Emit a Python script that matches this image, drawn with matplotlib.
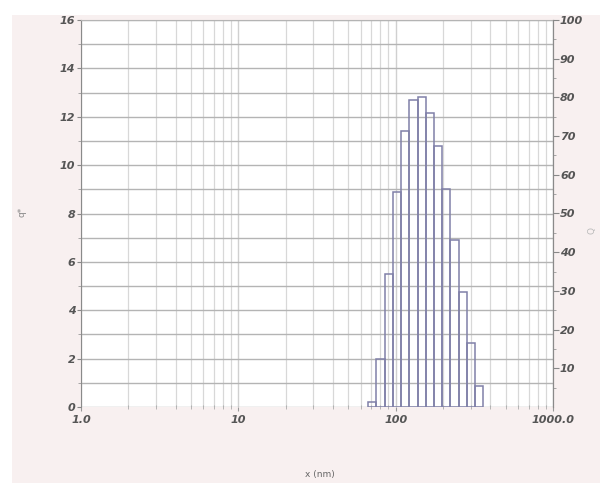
import matplotlib
matplotlib.use("Agg")
import matplotlib.pyplot as plt
from matplotlib.patches import Rectangle
from matplotlib.ticker import NullFormatter

# Data
bin_edges_nm = [67, 75, 85, 96, 108, 122, 138, 156, 175, 198, 223, 252, 284, 320, 361]
q_values = [0.2, 2.0, 5.5, 8.9, 11.4, 12.7, 12.8, 12.15, 10.8, 9.0, 6.9, 4.75, 2.65, 0.85]
x_tick_values = [1, 10, 100, 1000]
x_tick_labels = ["1.0", "10", "100", "1000.0"]
left_ticks = [0, 2, 4, 6, 8, 10, 12, 14, 16]
right_ticks = [10, 20, 30, 40, 50, 60, 70, 80, 90, 100]

W, H = 600, 483
fig = plt.figure(figsize=(6.0, 4.83), dpi=100, facecolor="white")
fig.patches.append(Rectangle((12 / W, 0), 1, (H - 15) / H, transform=fig.transFigure,
                             facecolor="#f8f0f0", edgecolor="none", zorder=-10))

ax = fig.add_axes([81 / W, (H - 407) / H, (553 - 81) / W, (407 - 20) / H])
ax.set_facecolor("white")
ax.set_xscale("log")
ax.set_xlim(1, 1000)
ax.set_ylim(0, 16)

# grid
ax.set_yticks(left_ticks)
ax.set_yticks(range(0, 17), minor=True)
ax.yaxis.grid(True, which="both", color="#b4b4b4", linewidth=1.0)
ax.xaxis.grid(True, which="minor", color="#d8d8d8", linewidth=0.9)
ax.xaxis.grid(True, which="major", color="#d0d0d0", linewidth=1.0)
ax.set_axisbelow(True)

# bars
widths = [bin_edges_nm[i + 1] - bin_edges_nm[i] for i in range(len(q_values))]
ax.bar(bin_edges_nm[:-1], q_values, width=widths, align="edge", fill=False,
       edgecolor="#8080a8", linewidth=1.1, zorder=3)

# axes styling
ax.spines["bottom"].set_visible(False)
ax.spines["top"].set_color("#b4b4b4")
ax.spines["left"].set_color("#8a8a8a")
ax.spines["right"].set_color("#8a8a8a")

tick_font = dict(fontsize=8, fontstyle="italic", fontweight="bold", color="#555555")
ax.set_xticks(x_tick_values)
ax.set_xticklabels(x_tick_labels, **tick_font)
ax.xaxis.set_minor_formatter(NullFormatter())
ax.tick_params(axis="x", which="major", length=3, color="#999999", pad=3)
ax.tick_params(axis="x", which="minor", length=3, color="#aaaaaa", direction="inout")
ax.set_yticklabels([str(v) for v in left_ticks], **tick_font)
ax.tick_params(axis="y", which="major", length=3, color="#888888", pad=1)
ax.tick_params(axis="y", which="minor", length=2, color="#999999")

ax2 = ax.twinx()
ax2.set_ylim(0, 100)
ax2.set_yticks(right_ticks)
ax2.set_yticks(range(5, 100, 10), minor=True)
ax2.set_yticklabels([str(v) for v in right_ticks], **tick_font)
ax2.tick_params(axis="y", which="major", length=4, color="#888888", pad=1)
ax2.tick_params(axis="y", which="minor", length=2, color="#999999")
for s in ["top", "bottom", "left"]:
    ax2.spines[s].set_visible(False)
ax2.spines["right"].set_color("#8a8a8a")

fig.text(320 / W, 1 - 474 / H, "x (nm)", fontsize=6.5, color="#666666", ha="center", va="center")
fig.text(22 / W, 1 - 212 / H, "q*", fontsize=6.5, color="#888888", rotation=90,
         ha="center", va="center")
fig.text(592 / W, 1 - 230 / H, "Q", fontsize=6.5, color="#bbbbbb", rotation=90,
         ha="center", va="center")

fig.savefig("out.png", dpi=100, facecolor=fig.get_facecolor())
